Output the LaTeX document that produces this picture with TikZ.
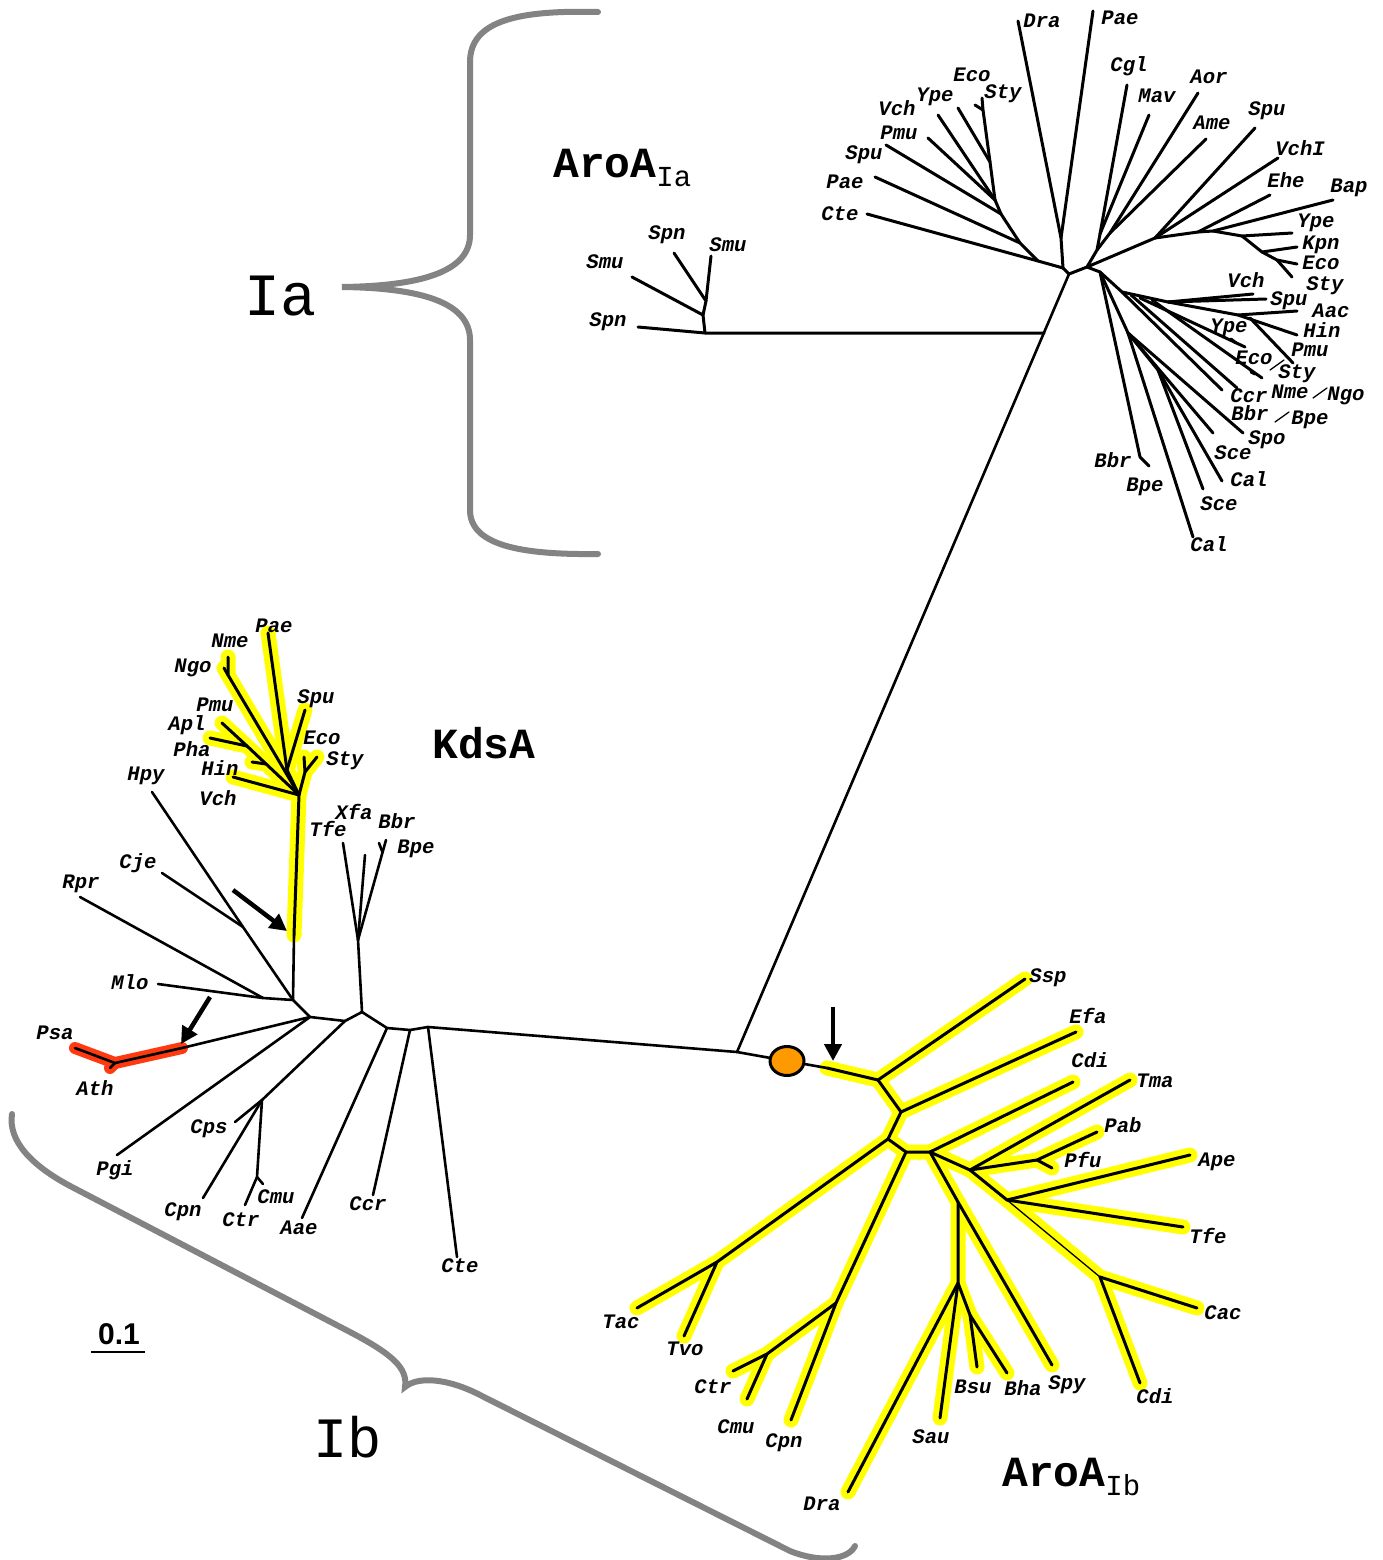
\documentclass[tikz,border=0pt]{standalone}
\usepackage{fontspec}
\setmainfont{Liberation Serif}
\newfontfamily\monof{Liberation Mono}
\newfontfamily\sansf{Liberation Sans}
\usetikzlibrary{arrows.meta,shapes.geometric}
\definecolor{hly}{HTML}{FFFF00}
\definecolor{hlr}{HTML}{FF3A10}
\definecolor{orng}{HTML}{FF9900}
\definecolor{brgray}{HTML}{838383}
\begin{document}
\begin{tikzpicture}[x=1pt,y=-1pt,
  br/.style={line width=3pt, line cap=round, line join=round},
  bk/.style={line width=2.6pt, line cap=round, line join=round},
  thin/.style={line width=1.3pt, line cap=round},
  yl/.style={line width=15pt, color=hly, line cap=round, line join=round},
  rd/.style={line width=12pt, color=hlr, line cap=round, line join=round},
  lb/.style={font=\monof\bfseries\itshape\fontsize{20.6}{22}\selectfont, inner sep=0pt, text height=11pt, text depth=0pt},
  bracestyle/.style={line width=6pt, color=brgray, line cap=round},
  bigarrow/.style={line width=4.5pt, -{Triangle[length=17pt,width=17pt]}}]
\useasboundingbox (0,0) rectangle (1382,1560);

% ---------------- coordinates: AroA Ia ----------------
\coordinate (T0) at (1063,268); \coordinate (T1) at (1069,274); \coordinate (T2) at (1087,267);
\coordinate (P1) at (1061,238); \coordinate (aDra) at (1018,21); \coordinate (aPae) at (1093,11);
\coordinate (C1) at (1038,261); \coordinate (aCte) at (867,214);
\coordinate (C2) at (1020,243); \coordinate (aPae2) at (875,177);
\coordinate (C3) at (1001,214); \coordinate (aSpu) at (886,145);
\coordinate (C4) at (995,200); \coordinate (aPmu) at (928,138); \coordinate (aVch) at (938,115);
\coordinate (C5) at (990,162); \coordinate (aYpe) at (958,108);
\coordinate (C6) at (983,110); \coordinate (aSty) at (982,98); \coordinate (aEco) at (975,105);
\coordinate (B2) at (1097,250); \coordinate (B3) at (1100,234); \coordinate (aCgl) at (1127,85); \coordinate (aMav) at (1149,115);
\coordinate (B4) at (1110,233); \coordinate (aAor) at (1198,93); \coordinate (aAme) at (1206,139);
\coordinate (B5) at (1155,238); \coordinate (aSpu2) at (1255,128); \coordinate (aVchI) at (1278,158);
\coordinate (B6) at (1198,232); \coordinate (aEhe) at (1270,195);
\coordinate (B7) at (1213,231); \coordinate (aBap) at (1333,200);
\coordinate (B8) at (1242,236); \coordinate (aYpe2) at (1292,233);
\coordinate (B9) at (1262,252); \coordinate (aKpn) at (1297,247);
\coordinate (B10) at (1277,260); \coordinate (aEco2) at (1297,264); \coordinate (aSty2) at (1292,277);
\coordinate (D0) at (1100,272); \coordinate (D1) at (1122,292); \coordinate (D2) at (1168,302);
\coordinate (aVch2) at (1253,294); \coordinate (aSpu3) at (1266,299);
\coordinate (D3) at (1238,315); \coordinate (aAac) at (1297,311); \coordinate (aHin) at (1297,335);
\coordinate (D3b) at (1250,318); \coordinate (aPmu2) at (1293,363);
\coordinate (D1b) at (1140,298); \coordinate (aYpe3) at (1245,347); \coordinate (aYpeT) at (1231,339); \coordinate (aYpeJ) at (1236,343);
\coordinate (D1c) at (1152,300); \coordinate (aES) at (1262,378); \coordinate (aEST) at (1251,372); \coordinate (aESJ) at (1255,374);
\coordinate (D1d) at (1131,295);
\coordinate (aCcr) at (1222,390); \coordinate (aNN) at (1237,388);
\coordinate (aBB) at (1140,457); \coordinate (aBBT) at (1149,466);
\coordinate (E1) at (1128,333); \coordinate (aSpo) at (1243,433); \coordinate (aSce) at (1213,433);
\coordinate (E2) at (1158,370); \coordinate (aCal) at (1222,481); \coordinate (aSce2) at (1203,489); \coordinate (aCal2) at (1193,537);
\coordinate (Fj) at (1044,333); \coordinate (F0) at (705,333); \coordinate (sSpn) at (638,327);
\coordinate (F1) at (703,315); \coordinate (sSmu) at (632,277);
\coordinate (F2) at (706,301); \coordinate (sSpn2) at (674,253); \coordinate (sSmu2) at (711,256);

% ---------------- backbone ----------------
\coordinate (G0) at (737,1052); \coordinate (K0) at (428,1027);
\coordinate (Gb) at (765,1057); \coordinate (Hs) at (827,1068);

% ---------------- AroA Ib ----------------
\coordinate (H0) at (878,1080); \coordinate (bSsp) at (1025,979);
\coordinate (H1) at (901,1112); \coordinate (bEfa) at (1076,1032);
\coordinate (H2) at (888,1139); \coordinate (H3) at (717,1262); \coordinate (bTac) at (637,1308); \coordinate (bTvo) at (684,1336);
\coordinate (H4) at (906,1152); \coordinate (H5) at (930,1152);
\coordinate (H6) at (836,1303); \coordinate (bCpn) at (791,1420);
\coordinate (H7) at (767,1354); \coordinate (bCtr) at (733,1371); \coordinate (bCmu) at (747,1399);
\coordinate (bCdi) at (1073,1082);
\coordinate (H8) at (970,1170); \coordinate (bTma) at (1130,1080);
\coordinate (H9) at (1037,1160); \coordinate (bPab) at (1097,1132); \coordinate (bPfu) at (1052,1168);
\coordinate (H10) at (1007,1200); \coordinate (bApe) at (1190,1155); \coordinate (bTfe) at (1183,1227);
\coordinate (H11) at (1100,1277); \coordinate (bCac) at (1197,1308); \coordinate (bCdi2) at (1140,1383);
\coordinate (H12) at (958,1202); \coordinate (bSpy) at (1052,1365);
\coordinate (H13) at (958,1283); \coordinate (bSau) at (940,1418); \coordinate (bDra) at (848,1492);
\coordinate (H14) at (970,1315); \coordinate (bBsu) at (977,1367); \coordinate (bBha) at (1007,1373);

% ---------------- KdsA ----------------
\coordinate (kCte) at (457,1257); \coordinate (K1) at (410,1030); \coordinate (kCcr) at (373,1195);
\coordinate (K2) at (387,1028); \coordinate (kAae) at (302,1218);
\coordinate (K3) at (362,1012); \coordinate (K4) at (358,940);
\coordinate (kTfe) at (343,843); \coordinate (kXfa) at (365,855); \coordinate (kBB) at (386,840);
\coordinate (kBBT) at (379,843); \coordinate (kBBJ) at (382,851);
\coordinate (K5) at (345,1021); \coordinate (K6) at (262,1100); \coordinate (kCps) at (235,1122);
\coordinate (kCpn) at (203,1198); \coordinate (K7) at (257,1177); \coordinate (kCtr) at (245,1205); \coordinate (kCmu) at (263,1184);
\coordinate (K8) at (310,1017); \coordinate (kPgi) at (117,1155);
\coordinate (kR1) at (182,1048); \coordinate (kR2) at (115,1063); \coordinate (kPsa) at (75,1048); \coordinate (kAth) at (110,1068);
\coordinate (K9) at (293,1000); \coordinate (K10) at (263,998); \coordinate (kMlo) at (158,984); \coordinate (kRpr) at (80,897);
\coordinate (K11) at (243,927); \coordinate (kCje) at (162,873); \coordinate (kHpy) at (152,792);
\coordinate (Ys) at (294,935); \coordinate (Y1) at (299,795);
\coordinate (kVch) at (233,777); \coordinate (kHinA) at (252,762); \coordinate (kHinB) at (266,764);
\coordinate (kL1) at (222,723); \coordinate (kL2) at (210,738); \coordinate (kLj) at (247,746);
\coordinate (N1) at (228,675); \coordinate (kNme) at (228,657); \coordinate (kNgo) at (224,668);
\coordinate (Y2) at (287,770); \coordinate (kPae) at (268,633); \coordinate (kSpu) at (305,710);
\coordinate (Ye) at (305,772); \coordinate (kEco) at (304,757); \coordinate (kSty) at (317,757);

% ---------------- highlights ----------------
\draw[yl] (Hs) -- (H0) -- (bSsp);
\draw[yl] (H0) -- (H1) -- (bEfa);
\draw[yl] (H1) -- (H2) -- (H3) -- (bTac);
\draw[yl] (H3) -- (bTvo);
\draw[yl] (H2) -- (H4) -- (H5);
\draw[yl] (H4) -- (H6) -- (bCpn);
\draw[yl] (H6) -- (H7) -- (bCtr);
\draw[yl] (H7) -- (bCmu);
\draw[yl] (H5) -- (bCdi);
\draw[yl] (H5) -- (H8) -- (bTma);
\draw[yl] (H8) -- (H9) -- (bPab);
\draw[yl] (H9) -- (bPfu);
\draw[yl] (H8) -- (H10) -- (bApe);
\draw[yl] (H10) -- (bTfe);
\draw[yl] (H10) -- (H11) -- (bCac);
\draw[yl] (H11) -- (bCdi2);
\draw[yl] (H5) -- (H12) -- (bSpy);
\draw[yl] (H12) -- (H13) -- (bSau);
\draw[yl] (H13) -- (bDra);
\draw[yl] (H13) -- (H14) -- (bBsu);
\draw[yl] (H14) -- (bBha);

\draw[yl] (Ys) -- (Y1) -- (kVch);
\draw[yl] (kHinA) -- (kHinB);
\draw[yl] (Y1) -- (kLj) -- (kL1);
\draw[yl] (kLj) -- (kL2);
\draw[yl] (Y1) -- (N1) -- (kNme);
\draw[yl] (N1) -- (kNgo);
\draw[yl] (Y1) -- (Y2) -- (kPae);
\draw[yl] (Y2) -- (kSpu);
\draw[yl] (Y1) -- (Ye) -- (kEco);
\draw[yl] (Ye) -- (kSty);

\draw[rd] (kR1) -- (kR2) -- (kPsa);
\draw[rd] (kR2) -- (kAth);

% ---------------- AroA Ia branches ----------------
\draw[br] (T0) -- (T1) -- (T2);
\draw[br] (T0) -- (P1) -- (aDra);
\draw[br] (P1) -- (aPae);
\draw[br] (T0) -- (C1) -- (aCte);
\draw[br] (C1) -- (C2) -- (aPae2);
\draw[br] (C2) -- (C3) -- (aSpu);
\draw[br] (C3) -- (C4) -- (aPmu);
\draw[br] (C4) -- (aVch);
\draw[br] (C4) -- (C5) -- (aYpe);
\draw[br] (C5) -- (C6) -- (aSty);
\draw[br] (C6) -- (aEco);
\draw[br] (T2) -- (B2) -- (B3) -- (aCgl);
\draw[br] (B3) -- (aMav);
\draw[br] (B2) -- (B4) -- (aAor);
\draw[br] (B4) -- (aAme);
\draw[br] (T2) -- (B5) -- (aSpu2);
\draw[br] (B5) -- (aVchI);
\draw[br] (B5) -- (B6) -- (aEhe);
\draw[br] (B6) -- (B7) -- (aBap);
\draw[br] (B7) -- (B8) -- (aYpe2);
\draw[br] (B8) -- (B9) -- (aKpn);
\draw[br] (B9) -- (B10) -- (aEco2);
\draw[br] (B10) -- (aSty2);
\draw[br] (T2) -- (D0) -- (D1) -- (D2) -- (aVch2);
\draw[br] (D2) -- (aSpu3);
\draw[br] (D2) -- (D3) -- (aAac);
\draw[br] (D3) -- (aHin);
\draw[br] (D3b) -- (aPmu2);
\draw[br] (D1b) -- (aYpe3);
\draw[br] (aYpeT) -- (aYpeJ);
\draw[br] (D1c) -- (aES);
\draw[br] (aEST) -- (aESJ);
\draw[br] (D1) -- (aCcr);
\draw[br] (D1d) -- (aNN);
\draw[br] (D0) -- (aBB) -- (aBBT);
\draw[br] (D0) -- (E1) -- (aSpo);
\draw[br] (E1) -- (aSce);
\draw[br] (E1) -- (E2) -- (aCal);
\draw[br] (E2) -- (aSce2);
\draw[br] (E1) -- (aCal2);
\draw[br] (Fj) -- (F0) -- (sSpn);
\draw[br] (F0) -- (F1) -- (sSmu);
\draw[br] (F1) -- (F2) -- (sSpn2);
\draw[br] (F2) -- (sSmu2);
\draw[thin] (1270,370) -- (1284,360);
\draw[thin] (1313,398) -- (1327,388);
\draw[thin] (1275,422) -- (1289,412);

% ---------------- backbone ----------------
\draw[bk] (T1) -- (G0);
\draw[bk] (K0) -- (G0) -- (Gb);
\draw[bk] (Gb) -- (Hs);
\draw[br] (Hs) -- (H0);

% ---------------- AroA Ib black ----------------
\draw[br] (H0) -- (bSsp);
\draw[br] (H0) -- (H1) -- (bEfa);
\draw[br] (H1) -- (H2) -- (H3) -- (bTac);
\draw[br] (H3) -- (bTvo);
\draw[br] (H2) -- (H4) -- (H5);
\draw[br] (H4) -- (H6) -- (bCpn);
\draw[br] (H6) -- (H7) -- (bCtr);
\draw[br] (H7) -- (bCmu);
\draw[br] (H5) -- (bCdi);
\draw[br] (H5) -- (H8) -- (bTma);
\draw[br] (H8) -- (H9) -- (bPab);
\draw[br] (H9) -- (bPfu);
\draw[br] (H8) -- (H10) -- (bApe);
\draw[br] (H10) -- (bTfe);
\draw[thin] (H10) -- (H11);
\draw[br] (H11) -- (bCac);
\draw[br] (H11) -- (bCdi2);
\draw[br] (H5) -- (H12) -- (bSpy);
\draw[br] (H12) -- (H13) -- (bSau);
\draw[br] (H13) -- (bDra);
\draw[br] (H13) -- (H14) -- (bBsu);
\draw[br] (H14) -- (bBha);

% ---------------- KdsA black ----------------
\draw[bk] (K0) -- (kCte);
\draw[bk] (K0) -- (K1) -- (kCcr);
\draw[bk] (K1) -- (K2) -- (kAae);
\draw[bk] (K2) -- (K3) -- (K4) -- (kTfe);
\draw[bk] (K4) -- (kXfa);
\draw[bk] (K4) -- (kBB);
\draw[bk] (kBBT) -- (kBBJ);
\draw[bk] (K3) -- (K5) -- (K6) -- (kCps);
\draw[bk] (K6) -- (kCpn);
\draw[bk] (K6) -- (K7) -- (kCtr);
\draw[bk] (K7) -- (kCmu);
\draw[bk] (K5) -- (K8) -- (kPgi);
\draw[bk] (K8) -- (kR1) -- (kR2) -- (kPsa);
\draw[bk] (kR2) -- (kAth);
\draw[bk] (K8) -- (K9) -- (K10) -- (kMlo);
\draw[bk] (K10) -- (kRpr);
\draw[bk] (K9) -- (K11) -- (kHpy);
\draw[bk] (K11) -- (kCje);
\draw[bk] (K9) -- (Ys);
\draw[br] (Ys) -- (Y1) -- (kVch);
\draw[br] (kHinA) -- (kHinB);
\draw[br] (Y1) -- (kLj) -- (kL1);
\draw[br] (kLj) -- (kL2);
\draw[br] (Y1) -- (N1) -- (kNme);
\draw[br] (N1) -- (kNgo);
\draw[br] (Y1) -- (Y2) -- (kPae);
\draw[br] (Y2) -- (kSpu);
\draw[br] (Y1) -- (Ye) -- (kEco);
\draw[br] (Ye) -- (kSty);

% root marker
\node[draw=black, line width=3pt, fill=orng, shape=ellipse, minimum width=34pt, minimum height=29pt, inner sep=0pt] (root) at (787,1061) {};

% arrows
\coordinate (ar1s) at (233,890); \coordinate (ar1e) at (287,931);
\coordinate (ar2s) at (210,997); \coordinate (ar2e) at (181,1044);
\coordinate (ar3s) at (833,1007); \coordinate (ar3e) at (833,1061);
\draw[bigarrow] (ar1s) -- (ar1e);
\draw[bigarrow] (ar2s) -- (ar2e);
\draw[bigarrow] (ar3s) -- (ar3e);

% braces
\draw[bracestyle] (598,12) .. controls (520,10) and (470,20) .. (470,62) -- (470,235)
  .. controls (470,272) and (420,286) .. (342,287)
  .. controls (420,288) and (470,302) .. (470,340) -- (470,510)
  .. controls (470,545) and (520,555) .. (598,554);
\draw[bracestyle] (12,1114) .. controls (8,1140) and (30,1165) .. (72,1187) -- (350,1332)
  .. controls (392,1354) and (408,1368) .. (405,1387)
  .. controls (418,1376) and (448,1378) .. (482,1396) -- (790,1551)
  .. controls (820,1563) and (848,1560) .. (855,1546);

% big labels
\node[font=\monof\fontsize{60}{64}\selectfont, inner sep=0pt] (labIa) at (281,296) {Ia};
\node[font=\monof\fontsize{57}{60}\selectfont, inner sep=0pt] (labIb) at (348,1437) {Ib};
\node[anchor=base west, inner sep=0pt, font=\monof\bfseries\fontsize{43}{46}\selectfont] (labAroAIa) at (553,177) {AroA\raisebox{-9pt}{\monof\mdseries\fontsize{29}{30}\selectfont Ia}};
\node[anchor=base west, inner sep=0pt, font=\monof\bfseries\fontsize{43}{46}\selectfont] (labAroAIb) at (1002,1486) {AroA\raisebox{-9pt}{\monof\mdseries\fontsize{29}{30}\selectfont Ib}};
\node[anchor=base west, inner sep=0pt, font=\monof\bfseries\fontsize{43}{46}\selectfont] (labKdsA) at (432,758) {KdsA};
\node[inner sep=0pt, font=\sansf\bfseries\fontsize{30}{32}\selectfont] (scaletxt) at (119,1334) {0.1};
\coordinate (sbL) at (91,1352); \coordinate (sbR) at (145,1352);
\draw[line width=1.8pt] (sbL) -- (sbR);

% ---------------- taxon labels: Ia ----------------
\node[lb] (l01) at (1042,22) {Dra};
\node[lb] (l02) at (1120,19) {Pae};
\node[lb] (l03) at (1129,66) {Cgl};
\node[lb] (l04) at (1157,97) {Mav};
\node[lb] (l05) at (1209,78) {Aor};
\node[lb] (l06) at (1212,124) {Ame};
\node[lb] (l07) at (1267,110) {Spu};
\node[lb] (l08) at (1300,150) {VchI};
\node[lb] (l09) at (1286,182) {Ehe};
\node[lb] (l10) at (1349,187) {Bap};
\node[lb] (l11) at (1316,222) {Ype};
\node[lb] (l12) at (1321,244) {Kpn};
\node[lb] (l13) at (1321,264) {Eco};
\node[lb] (l14) at (1325,285) {Sty};
\node[lb] (l15) at (1246,282) {Vch};
\node[lb] (l16) at (1289,300) {Spu};
\node[lb] (l17) at (1331,312) {Aac};
\node[lb] (l18) at (1229,327) {Ype};
\node[lb] (l19) at (1322,332) {Hin};
\node[lb] (l20) at (1310,351) {Pmu};
\node[lb] (l21) at (1254,359) {Eco};
\node[lb] (l22) at (1297,373) {Sty};
\node[lb] (l23) at (1249,397) {Ccr};
\node[lb] (l24) at (1290,393) {Nme};
\node[lb] (l25) at (1346,395) {Ngo};
\node[lb] (l26) at (1250,415) {Bbr};
\node[lb] (l27) at (1310,419) {Bpe};
\node[lb] (l28) at (1267,439) {Spo};
\node[lb] (l29) at (1233,454) {Sce};
\node[lb] (l30) at (1249,481) {Cal};
\node[lb] (l31) at (1219,505) {Sce};
\node[lb] (l32) at (1209,546) {Cal};
\node[lb] (l33) at (1113,462) {Bbr};
\node[lb] (l34) at (1145,486) {Bpe};
\node[lb] (l35) at (972,76) {Eco};
\node[lb] (l36) at (1003,93) {Sty};
\node[lb] (l37) at (935,96) {Ype};
\node[lb] (l38) at (897,110) {Vch};
\node[lb] (l39) at (899,134) {Pmu};
\node[lb] (l40) at (864,154) {Spu};
\node[lb] (l41) at (845,183) {Pae};
\node[lb] (l42) at (840,215) {Cte};
\node[lb] (l43) at (605,263) {Smu};
\node[lb] (l44) at (667,234) {Spn};
\node[lb] (l45) at (728,246) {Smu};
\node[lb] (l46) at (608,321) {Spn};

% ---------------- taxon labels: KdsA ----------------
\node[lb] (m01) at (274,627) {Pae};
\node[lb] (m02) at (230,642) {Nme};
\node[lb] (m03) at (193,667) {Ngo};
\node[lb] (m04) at (316,698) {Spu};
\node[lb] (m05) at (215,706) {Pmu};
\node[lb] (m06) at (187,725) {Apl};
\node[lb] (m07) at (322,739) {Eco};
\node[lb] (m08) at (192,751) {Pha};
\node[lb] (m09) at (345,760) {Sty};
\node[lb] (m10) at (220,770) {Hin};
\node[lb] (m11) at (146,775) {Hpy};
\node[lb] (m12) at (218,800) {Vch};
\node[lb] (m13) at (354,814) {Xfa};
\node[lb] (m14) at (397,823) {Bbr};
\node[lb] (m15) at (328,831) {Tfe};
\node[lb] (m16) at (416,848) {Bpe};
\node[lb] (m17) at (138,863) {Cje};
\node[lb] (m18) at (81,883) {Rpr};
\node[lb] (m19) at (130,984) {Mlo};
\node[lb] (m20) at (55,1034) {Psa};
\node[lb] (m21) at (95,1090) {Ath};
\node[lb] (m22) at (209,1128) {Cps};
\node[lb] (m23) at (115,1170) {Pgi};
\node[lb] (m24) at (276,1198) {Cmu};
\node[lb] (m25) at (183,1211) {Cpn};
\node[lb] (m26) at (241,1221) {Ctr};
\node[lb] (m27) at (299,1229) {Aae};
\node[lb] (m28) at (368,1205) {Ccr};
\node[lb] (m29) at (460,1267) {Cte};

% ---------------- taxon labels: AroA Ib ----------------
\node[lb] (n01) at (1048,977) {Ssp};
\node[lb] (n02) at (1088,1018) {Efa};
\node[lb] (n03) at (1090,1062) {Cdi};
\node[lb] (n04) at (1155,1082) {Tma};
\node[lb] (n05) at (1123,1127) {Pab};
\node[lb] (n06) at (1083,1162) {Pfu};
\node[lb] (n07) at (1217,1161) {Ape};
\node[lb] (n08) at (1208,1238) {Tfe};
\node[lb] (n09) at (1223,1314) {Cac};
\node[lb] (n10) at (1155,1398) {Cdi};
\node[lb] (n11) at (1067,1384) {Spy};
\node[lb] (n12) at (1023,1390) {Bha};
\node[lb] (n13) at (973,1388) {Bsu};
\node[lb] (n14) at (931,1438) {Sau};
\node[lb] (n15) at (822,1505) {Dra};
\node[lb] (n16) at (784,1442) {Cpn};
\node[lb] (n17) at (736,1428) {Cmu};
\node[lb] (n18) at (713,1388) {Ctr};
\node[lb] (n19) at (685,1350) {Tvo};
\node[lb] (n20) at (621,1323) {Tac};
\end{tikzpicture}
\end{document}
